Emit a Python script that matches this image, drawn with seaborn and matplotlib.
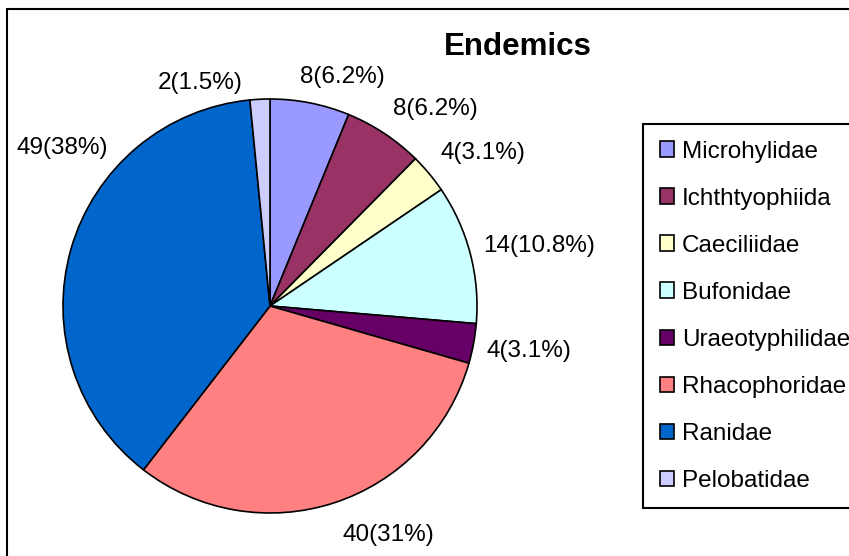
import numpy as np
import matplotlib
matplotlib.use("Agg")
import matplotlib.pyplot as plt
import matplotlib.patches as mpatches
import seaborn as sns

sns.set_style("white")
plt.rcParams['font.family'] = ['Liberation Sans', 'DejaVu Sans']
plt.rcParams['text.color'] = 'black'

# data
families = ["Microhylidae", "Ichthtyophiida", "Caeciliidae", "Bufonidae",
            "Uraeotyphilidae", "Rhacophoridae", "Ranidae", "Pelobatidae"]
counts = [8, 8, 4, 14, 4, 40, 49, 2]
pct_text = ["6.2%", "6.2%", "3.1%", "10.8%", "3.1%", "31%", "38%", "1.5%"]
colors = ["#9999FF", "#993366", "#FFFFCC", "#CCFFFF",
          "#660066", "#FF8080", "#0066CC", "#CCCCFF"]

labels = [f"{c}({p})" for c, p in zip(counts, pct_text)]

# pixel nudges of each data label from its default spot (Excel layout)
label_nudge = [(-14, -6), (-3, -7), (-5, -7), (-7, -2),
               (-7, 4), (2, 13), (57, -95), (-16, 4)]

W, H = 849, 556
cx, cy, R = 270, H - 306, 207

fig = plt.figure(figsize=(W / 100, H / 100), dpi=100)
ax = fig.add_axes([0, 0, 1, 1])

wedges, _ = ax.pie(
    counts, colors=colors, startangle=90, counterclock=False,
    center=(cx, cy), radius=R,
    wedgeprops=dict(edgecolor="black", linewidth=1.2),
)

for w, lab, (dx, dy) in zip(wedges, labels, label_nudge):
    mid = np.deg2rad((w.theta1 + w.theta2) / 2)
    x = cx + 1.1 * R * np.cos(mid) + dx
    y = cy + 1.1 * R * np.sin(mid) - dy
    ha = "left" if np.cos(mid) > 0 else "right"
    ax.text(x, y, lab, ha=ha, va="center", fontsize=17.5)

ax.set_xlim(0, W)
ax.set_ylim(0, H)
ax.set_aspect("equal")
ax.axis("off")

fig.text(518 / W, 1 - 47 / H, "Endemics", ha="center", va="center",
         fontsize=22.5, fontweight="bold")

leg = ax.legend(wedges, families, loc="upper left",
                bbox_to_anchor=(643 / W, 1 - 124 / H), bbox_transform=fig.transFigure,
                borderaxespad=0, frameon=True, fancybox=False, shadow=False,
                edgecolor="black", framealpha=1, fontsize=17.5,
                labelspacing=1.03, handlelength=0.58, handleheight=0.58,
                handletextpad=0.35, borderpad=0.68)
leg.get_frame().set_linewidth(1.5)

# chart area border (runs off the right and bottom edges)
frame = mpatches.Rectangle((7 / W, -0.1), 1.2, 1 - 9 / H + 0.1,
                           transform=fig.transFigure, fill=False,
                           edgecolor="black", linewidth=1.5)
fig.patches.append(frame)

fig.savefig("out.png", dpi=100)
